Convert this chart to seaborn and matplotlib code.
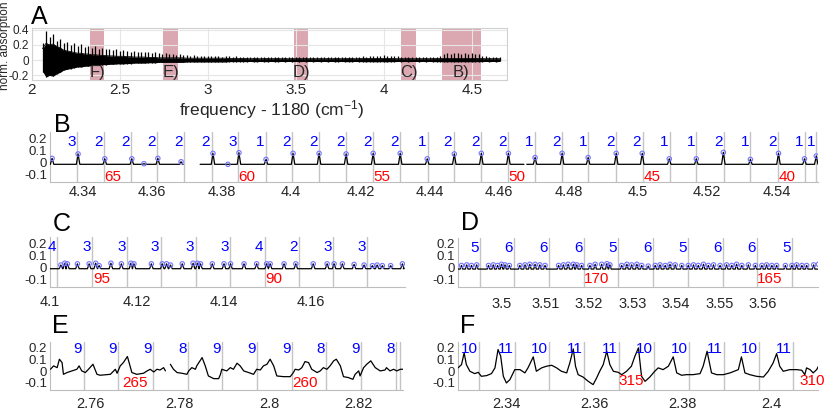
import numpy as np
import matplotlib
matplotlib.use('Agg')
import matplotlib.pyplot as plt
from matplotlib.ticker import FuncFormatter
import seaborn as sns

# ------------------------------------------------------------------ data
# Panel A : overview spectrum, upper / lower envelope on a 0.02 grid
a_x = np.round(np.arange(2.06, 4.661, 0.02), 2)
a_hi = [0.22, 0.38, 0.30, 0.34, 0.25, 0.28, 0.22, 0.24,
        0.20, 0.23, 0.18, 0.21, 0.17, 0.19, 0.16, 0.18, 0.15, 0.16,
        0.14, 0.15, 0.13, 0.14, 0.12, 0.13, 0.12, 0.11, 0.12, 0.11,
        0.10, 0.11, 0.10, 0.09, 0.10, 0.09, 0.085, 0.09, 0.08, 0.08,
        0.07, 0.075, 0.065, 0.07, 0.06, 0.065, 0.06, 0.055, 0.06, 0.055,
        0.05, 0.055, 0.05, 0.045, 0.05, 0.05, 0.045, 0.05, 0.045, 0.045,
        0.045, 0.04, 0.045, 0.04, 0.045, 0.04, 0.04, 0.045, 0.04, 0.04,
        0.04, 0.035, 0.04, 0.035, 0.04, 0.035, 0.04, 0.035, 0.035, 0.04,
        0.035, 0.04, 0.035, 0.04, 0.035, 0.04, 0.045, 0.04, 0.035, 0.04,
        0.04, 0.04, 0.045, 0.05, 0.045, 0.05, 0.055, 0.06, 0.06, 0.065,
        0.06, 0.055, 0.05, 0.05, 0.045, 0.04, 0.04, 0.04, 0.035, 0.035,
        0.035, 0.035, 0.04, 0.04, 0.045, 0.05, 0.08, 0.09, 0.085, 0.09,
        0.09, 0.085, 0.09, 0.085, 0.09, 0.08, 0.075, 0.06, 0.05, 0.045,
        0.04, 0.04, 0.035]
a_lo = [-0.15, -0.22, -0.20, -0.21, -0.18, -0.16, -0.13, -0.12,
        -0.11, -0.10, -0.09, -0.09, -0.08, -0.08, -0.07, -0.07, -0.065, -0.06,
        -0.06, -0.055, -0.055, -0.05, -0.05, -0.05, -0.045, -0.045, -0.04, -0.04,
        -0.04, -0.04, -0.035, -0.035, -0.035, -0.03, -0.03, -0.03, -0.03, -0.03,
        -0.03, -0.03, -0.03, -0.025, -0.025, -0.025, -0.025, -0.025, -0.025, -0.025,
        -0.025, -0.025, -0.025, -0.025, -0.025, -0.02, -0.02, -0.02, -0.02, -0.02,
        -0.02, -0.018, -0.02, -0.02, -0.018, -0.02, -0.02, -0.018, -0.02, -0.02,
        -0.018, -0.02, -0.018, -0.02, -0.018, -0.02, -0.018, -0.02, -0.018, -0.02,
        -0.018, -0.02, -0.018, -0.02, -0.018, -0.02, -0.02, -0.018, -0.02, -0.02,
        -0.02, -0.018, -0.02, -0.02, -0.022, -0.02, -0.022, -0.022, -0.02, -0.022,
        -0.022, -0.02, -0.02, -0.018, -0.02, -0.018, -0.02, -0.018, -0.018, -0.02,
        -0.018, -0.02, -0.018, -0.02, -0.02, -0.02, -0.022, -0.022, -0.02, -0.022,
        -0.022, -0.02, -0.022, -0.02, -0.022, -0.02, -0.02, -0.02, -0.018, -0.02,
        -0.018, -0.02, -0.018]
region_lo = [2.33, 2.745, 3.49, 4.10, 4.33]
region_hi = [2.41, 2.83, 3.57, 4.18, 4.55]
region_lab = ['F)', 'E)', 'D)', 'C)', 'B)']

# Panel B
b_peak_x = [4.3311, 4.3386, 4.3463, 4.3541, 4.3576, 4.3616, 4.3683, 4.3775,
            4.3818, 4.3850, 4.3928, 4.4006, 4.4081, 4.4159, 4.4237, 4.4315,
            4.4393, 4.4471, 4.4549, 4.4627, 4.4704, 4.4782, 4.4857, 4.4938,
            4.5013, 4.5091, 4.5169, 4.5247, 4.5325, 4.5406, 4.5481, 4.5515]
b_peak_y = [0.034, 0.07, 0.03, 0.03, -0.01, 0.034, 0.006, 0.075,
            -0.015, 0.08, 0.025, 0.075, 0.075, 0.07, 0.075, 0.075,
            0.03, 0.07, 0.075, 0.075, 0.04, 0.075, 0.04, 0.075,
            0.075, 0.03, 0.03, 0.083, 0.025, 0.075, 0.03, 0.053]
b_segments = [(4.3305, 4.3689), (4.3738, 4.4672), (4.4680, 4.5525)]
b_lines = [4.3384, 4.3461, 4.3538, 4.3614, 4.3692, 4.3771, 4.3848, 4.3927,
           4.4004, 4.4081, 4.4159, 4.4236, 4.4315, 4.4394, 4.4469, 4.4548,
           4.4625, 4.4704, 4.4782, 4.4858, 4.4937, 4.5014, 4.5092, 4.5169,
           4.5248, 4.5325, 4.5405, 4.5482, 4.5515]
b_labels = ['3', '2', '2', '2', '2', '2', '3', '1', '2', '2', '2', '2', '2',
            '1', '2', '2', '2', '1', '2', '1', '2', '2', '1', '1', '2', '1',
            '2', '1', '1']
b_red_x = [4.3487, 4.3873, 4.4263, 4.4652, 4.5042, 4.5430]
b_red = ['65', '60', '55', '50', '45', '40']

# Panel C
c_peak_x = [4.1025, 4.1034, 4.1040, 4.1063, 4.1090, 4.1105, 4.1113, 4.1140,
            4.1164, 4.1186, 4.1193, 4.1233, 4.1258, 4.1268, 4.1277, 4.1304,
            4.1329, 4.1339, 4.1346, 4.1373, 4.1400, 4.1415, 4.1446, 4.1475,
            4.1498, 4.1506, 4.1538, 4.1565, 4.1605, 4.1637, 4.1653, 4.1672,
            4.1699, 4.1722, 4.1741, 4.1752, 4.1764, 4.1783, 4.1810]
c_peak_y = [0.02, 0.035, 0.03, 0.03, 0.03, 0.035, 0.015, 0.035,
            0.03, 0.035, 0.03, 0.03, 0.03, 0.03, 0.02, 0.03,
            0.035, 0.035, 0.03, 0.03, 0.03, 0.03, 0.03, 0.03,
            0.03, 0.03, 0.03, 0.03, 0.03, 0.03, 0.03, 0.03,
            0.025, 0.02, 0.015, 0.02, 0.015, 0.015, 0.03]
c_lines = [4.1017, 4.1097, 4.1178, 4.1254, 4.1335, 4.1414, 4.1494, 4.1572,
           4.1651, 4.1729]
c_labels = ['4', '3', '3', '3', '3', '3', '4', '2', '3', '3']
c_red_x = [4.1120, 4.1515]
c_red = ['95', '90']

# Panel D
d_peak_x = [3.4907, 3.4919, 3.4930, 3.4942, 3.4969, 3.4980, 3.4990, 3.4999,
            3.5007, 3.5017, 3.5041, 3.5053, 3.5064, 3.5076, 3.5087, 3.5099,
            3.5130, 3.5141, 3.5152, 3.5164, 3.5172, 3.5183, 3.5202, 3.5214,
            3.5229, 3.5241, 3.5248, 3.5275, 3.5287, 3.5298, 3.5310, 3.5321,
            3.5336, 3.5352, 3.5363, 3.5375, 3.5386, 3.5398, 3.5413, 3.5428,
            3.5440, 3.5451, 3.5463, 3.5474, 3.5486, 3.5501, 3.5516, 3.5528,
            3.5539, 3.5551, 3.5566, 3.5582, 3.5597, 3.5608, 3.5620, 3.5631,
            3.5651, 3.5666, 3.5677, 3.5689, 3.5700, 3.5716, 3.5727]
d_peak_y = [0.02, 0.025, 0.02, 0.025, 0.02, 0.025, 0.02, 0.03, 0.025, 0.02,
            0.02, 0.025, 0.03, 0.03, 0.025, 0.02, 0.02, 0.025, 0.03, 0.03,
            0.025, 0.02, 0.02, 0.03, 0.03, 0.035, 0.025, 0.02, 0.03, 0.025,
            0.03, 0.02, 0.015, 0.02, 0.025, 0.02, 0.03, 0.025, 0.02, 0.02,
            0.025, 0.02, 0.03, 0.02, 0.025, 0.02, 0.025, 0.02, 0.03, 0.02,
            0.025, 0.02, 0.02, 0.025, 0.02, 0.02, 0.02, 0.02, 0.025, 0.02,
            0.02, 0.025, 0.03]
d_lines = [3.4949, 3.5028, 3.5109, 3.5189, 3.5267, 3.5348, 3.5428, 3.5507,
           3.5587, 3.5666]
d_labels = ['5', '6', '6', '6', '5', '6', '5', '6', '6', '5']
d_red_x = [3.5218, 3.5616]
d_red = ['170', '165']

# Panel E (two trace segments)
e_x1 = [2.7511, 2.7518, 2.7526, 2.7531, 2.7537, 2.7540, 2.7548, 2.7570,
        2.7575, 2.7581, 2.7589, 2.7596, 2.7606, 2.7615, 2.7622, 2.7645,
        2.7656, 2.7660, 2.7667, 2.7674, 2.7683, 2.7693, 2.7704, 2.7719,
        2.7727, 2.7734, 2.7742, 2.7749, 2.7756, 2.7764, 2.7768]
e_y1 = [0.017, 0.046, 0.031, 0.103, 0.074, -0.026, -0.011, 0.017,
        0.046, 0.003, -0.011, 0.017, 0.06, -0.026, -0.034, -0.026,
        0.017, -0.017, 0.046, 0.074, 0.126, -0.011, -0.026, -0.017,
        0.003, 0.017, -0.006, 0.017, 0.011, 0.031, 0.003]
e_x2 = [2.7779, 2.7786, 2.7794, 2.7805, 2.7816, 2.7820, 2.7827, 2.7835,
        2.7838, 2.7850, 2.7857, 2.7864, 2.7876, 2.7887, 2.7891, 2.7894,
        2.7905, 2.7913, 2.7920, 2.7928, 2.7935, 2.7943, 2.7954, 2.7965,
        2.7972, 2.7980, 2.7987, 2.7995, 2.8002, 2.8010, 2.8017, 2.8032,
        2.8047, 2.8054, 2.8058, 2.8066, 2.8073, 2.8080, 2.8088, 2.8095,
        2.8107, 2.8114, 2.8121, 2.8129, 2.8136, 2.8144, 2.8150, 2.8159,
        2.8166, 2.8177, 2.8187, 2.8192, 2.8200, 2.8203, 2.8211, 2.8218,
        2.8227, 2.8237, 2.8248, 2.8259, 2.8262, 2.8270, 2.8278, 2.8285,
        2.8293, 2.8300]
e_y2 = [0.06, 0.017, -0.011, -0.017, -0.026, 0.003, 0.031, 0.017,
        0.046, 0.117, 0.046, -0.04, -0.063, -0.063, -0.026, 0.017,
        0.003, 0.031, 0.017, 0.069, 0.046, 0.003, -0.011, -0.026,
        0.017, 0.011, 0.046, 0.06, 0.103, 0.046, -0.04, -0.046,
        -0.046, -0.011, 0.017, 0.011, 0.031, 0.083, 0.074, 0.017,
        -0.011, 0.003, 0.031, 0.017, 0.046, 0.089, 0.103, 0.046,
        -0.046, -0.054, -0.069, -0.026, 0.003, -0.04, 0.031, 0.06,
        0.089, 0.031, 0.003, 0.011, 0.031, 0.003, 0.017, 0.003,
        0.017, 0.017]
e_lines = [2.7585, 2.7663, 2.7740, 2.7818, 2.7894, 2.7972, 2.8051, 2.8127,
           2.8205, 2.8284, 2.8293]
e_labels = ['9', '9', '9', '8', '9', '9', '9', '8', '9', '8', '']
e_red_x = [2.7701, 2.8080]
e_red = ['265', '260']

# Panel F
f_x = [2.3289, 2.3297, 2.3303, 2.3308, 2.3316, 2.3327, 2.3335, 2.3342,
       2.3354, 2.3365, 2.3373, 2.3380, 2.3386, 2.3392, 2.3399, 2.3407,
       2.3418, 2.3430, 2.3441, 2.3448, 2.3460, 2.3467, 2.3479, 2.3490,
       2.3502, 2.3513, 2.3524, 2.3536, 2.3543, 2.3551, 2.3556, 2.3562,
       2.3573, 2.3585, 2.3596, 2.3604, 2.3611, 2.3619, 2.3627, 2.3634,
       2.3642, 2.3653, 2.3661, 2.3672, 2.3683, 2.3691, 2.3699, 2.3706,
       2.3714, 2.3725, 2.3736, 2.3744, 2.3755, 2.3767, 2.3778, 2.3786,
       2.3797, 2.3808, 2.3823, 2.3839, 2.3846, 2.3855, 2.3865, 2.3877,
       2.3892, 2.3907, 2.3926, 2.3933, 2.3941, 2.3952, 2.3967, 2.3983,
       2.3994, 2.4005, 2.4013, 2.4020, 2.4028, 2.4043, 2.4058, 2.4070,
       2.4077, 2.4081, 2.4089, 2.4096, 2.4104, 2.4108]
f_y = [0.029, 0.057, 0.157, 0.057, 0.0, -0.02, -0.009, -0.043,
       -0.037, -0.02, 0.029, 0.186, 0.129, -0.043, -0.1, -0.071,
       0.014, 0.014, -0.014, 0.029, 0.123, 0.0, 0.029, 0.043,
       0.051, 0.029, 0.0, -0.014, 0.071, 0.191, 0.043, -0.029,
       -0.049, -0.086, -0.114, -0.057, 0.0, 0.057, 0.171, 0.057,
       0.0, -0.009, -0.029, 0.0, 0.043, 0.129, 0.2, -0.043,
       -0.086, -0.049, 0.0, 0.029, 0.014, 0.043, 0.123, -0.014,
       -0.034, -0.029, -0.029, -0.02, 0.043, 0.171, -0.014, -0.029,
       -0.029, -0.014, 0.014, 0.123, -0.014, -0.029, -0.043, -0.049,
       0.0, 0.071, 0.151, 0.043, 0.0, 0.014, 0.014, 0.009,
       -0.029, 0.029, 0.014, -0.014, 0.014, 0.043]
f_lines = [2.3337, 2.3418, 2.3496, 2.3576, 2.3655, 2.3735, 2.3814, 2.3893,
           2.3973, 2.4051]
f_labels = ['10', '11', '10', '11', '11', '10', '10', '11', '10', '11']
f_red_x = [2.3683, 2.4093]
f_red = ['315', '310']

# ------------------------------------------------------------------ style
sns.set_theme(style='white')
plt.rcParams['font.family'] = ['Liberation Sans', 'DejaVu Sans']
plt.rcParams['mathtext.default'] = 'regular'

W, H = 831, 411
fig = plt.figure(figsize=(W / 100, H / 100), dpi=100)


def rect(l, t, r, b):
    return [l / W, 1 - b / H, (r - l) / W, (b - t) / H]


axA = fig.add_axes(rect(32, 28, 507, 80))
axB = fig.add_axes(rect(50, 132, 818, 182))
axC = fig.add_axes(rect(50, 237, 405, 287))
axD = fig.add_axes(rect(458, 238, 818, 287))
axE = fig.add_axes(rect(50, 342, 403, 390))
axF = fig.add_axes(rect(458, 342, 818, 390))

fmt = FuncFormatter(lambda v, p: f'{v:g}')
TXT = '#262626'
SPINE = '#bdbdbd'
GRAYLINE = '#c4c4c4'
CIRC = '#7373ff'
YLIM = (-0.16, 0.25)

# ------------------------------------------------------------------ panel A
for lo, hi, lab in zip(region_lo, region_hi, region_lab):
    axA.axvspan(lo, hi, color='#dba7b1', lw=0, zorder=0.5)
    axA.text((lo + hi) / 2, -0.16, lab, ha='center', va='center',
             fontsize=12, color=TXT, zorder=5)
axA.vlines(a_x, a_lo, a_hi, color='black', lw=0.9, zorder=3)
axA.fill_between(a_x, a_lo, [-v for v in a_lo], color='black', lw=0, zorder=3)
sns.lineplot(x=a_x, y=[-v for v in a_lo], ax=axA, color='black', lw=0.6,
             estimator=None, sort=False, zorder=3)
axA.set_xlim(2.0, 4.70)
axA.set_ylim(-0.26, 0.42)
axA.set_xticks([2, 2.5, 3, 3.5, 4, 4.5])
axA.set_yticks([-0.2, 0, 0.2, 0.4])
axA.xaxis.set_major_formatter(fmt)
axA.yaxis.set_major_formatter(fmt)
axA.grid(True, color='#e6e6e6', lw=0.8, zorder=0)
axA.set_axisbelow(True)
for s in axA.spines.values():
    s.set_color('#d0d0d0')
    s.set_linewidth(0.8)
axA.tick_params(direction='in', length=3, color=SPINE, labelsize=11,
                labelcolor=TXT, pad=2)
axA.tick_params(axis='y', pad=2, labelsize=8.5)


# ------------------------------------------------------------------ helpers
def style_small(ax, xlim, xticks, xpad):
    ax.set_xlim(*xlim)
    ax.set_ylim(*YLIM)
    ax.set_xticks(xticks)
    ax.set_yticks([-0.1, 0, 0.1, 0.2])
    ax.xaxis.set_major_formatter(fmt)
    ax.yaxis.set_major_formatter(fmt)
    for s in ['top', 'right']:
        ax.spines[s].set_visible(False)
    for s in ['left', 'bottom']:
        ax.spines[s].set_color(SPINE)
        ax.spines[s].set_linewidth(0.8)
    ax.tick_params(direction='in', length=3, color=SPINE, labelsize=10.5,
                   labelcolor=TXT)
    ax.tick_params(axis='x', pad=xpad)
    ax.tick_params(axis='y', pad=2, labelsize=9.5)


def peak_trace(px, py, base, w, start, end):
    xs, ys = [start], [base]
    for x, y in zip(px, py):
        if start < x < end:
            xs += [x - w, x, x + w]
            ys += [base, y, base]
    xs.append(end)
    ys.append(base)
    return xs, ys


def draw_lines(ax, lines, labels, ylab, red_x, red, yred):
    for x, lab in zip(lines, labels):
        ax.axvline(x, color=GRAYLINE, lw=1.0, zorder=1)
        if lab:
            ax.annotate(lab, (x, ylab), xytext=(-1, 0),
                        textcoords='offset points', ha='right', va='center',
                        color='#0000ff', fontsize=11, zorder=6)
    for x, lab in zip(red_x, red):
        ax.text(x, yred, lab, ha='center', va='center', color='#ff0000',
                fontsize=11, zorder=6)


def line(ax, xs, ys):
    sns.lineplot(x=xs, y=ys, ax=ax, color='black', lw=0.9, estimator=None,
                 sort=False, zorder=4)


# ------------------------------------------------------------------ panel B
draw_lines(axB, b_lines, b_labels, 0.168, b_red_x, b_red, -0.115)
for s0, s1 in b_segments:
    xs, ys = peak_trace(b_peak_x, b_peak_y, -0.015, 0.0005, s0, s1)
    line(axB, xs, ys)
axB.scatter(b_peak_x, b_peak_y, s=10, facecolors='none', edgecolors=CIRC,
            linewidths=0.8, zorder=5)
style_small(axB, (4.3305, 4.552), np.arange(4.34, 4.541, 0.02), 2)

# ------------------------------------------------------------------ panel C
draw_lines(axC, c_lines, c_labels, 0.168, c_red_x, c_red, -0.095)
xs, ys = peak_trace(c_peak_x, c_peak_y, -0.01, 0.0004, 4.1, 4.1812)
line(axC, xs, ys)
axC.scatter(c_peak_x, c_peak_y, s=10, facecolors='none', edgecolors=CIRC,
            linewidths=0.8, zorder=5)
style_small(axC, (4.1, 4.1816), [4.10, 4.12, 4.14, 4.16], 6)

# ------------------------------------------------------------------ panel D
draw_lines(axD, d_lines, d_labels, 0.168, d_red_x, d_red, -0.095)
xs, ys = peak_trace(d_peak_x, d_peak_y, -0.01, 0.0003, 3.4899, 3.5726)
line(axD, xs, ys)
axD.scatter(d_peak_x, d_peak_y, s=10, facecolors='none', edgecolors=CIRC,
            linewidths=0.8, zorder=5)
style_small(axD, (3.4899, 3.5726), [3.50, 3.51, 3.52, 3.53, 3.54, 3.55, 3.56], 7)

# ------------------------------------------------------------------ panel E
draw_lines(axE, e_lines, e_labels, 0.19, e_red_x, e_red, -0.10)
line(axE, e_x1, e_y1)
line(axE, e_x2, e_y2)
style_small(axE, (2.751, 2.8299), [2.76, 2.78, 2.80, 2.82], 5)

# ------------------------------------------------------------------ panel F
draw_lines(axF, f_lines, f_labels, 0.19, f_red_x, f_red, -0.085)
line(axF, f_x, f_y)
style_small(axF, (2.3289, 2.4107), [2.34, 2.36, 2.38, 2.40], 5)

# ------------------------------------------------------------------ text
for lab, px, py in [('A', 39, 17), ('B', 62, 125), ('C', 62, 224),
                    ('D', 470, 223), ('E', 60, 326), ('F', 468, 326)]:
    fig.text(px / W, 1 - py / H, lab, fontsize=18, ha='center', va='center',
             color='black')
fig.text(272 / W, 1 - 110 / H, r'frequency - 1180 (cm$^{-1}$)', fontsize=12.5,
         ha='center', va='center', color=TXT)
fig.text(5 / W, 1 - 46 / H, 'norm. absorption', fontsize=8.5, rotation=90,
         ha='center', va='center', color=TXT)

fig.savefig('out.png', dpi=100)
